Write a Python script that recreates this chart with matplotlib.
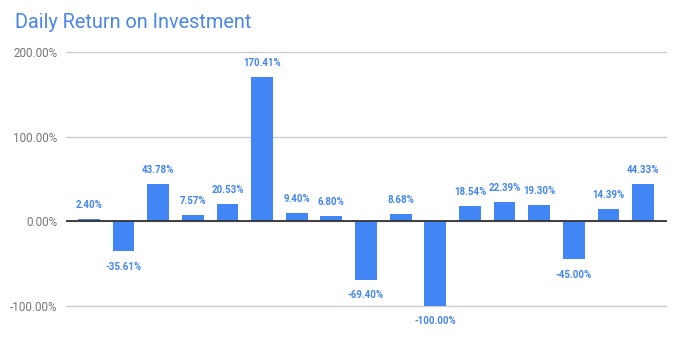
import matplotlib.pyplot as plt
from matplotlib.ticker import FuncFormatter

# daily returns in percent
days = list(range(17))
returns = [2.40, -35.61, 43.78, 7.57, 20.53, 170.41, 9.40, 6.80, -69.40,
           8.68, -100.00, 18.54, 22.39, 19.30, -45.00, 14.39, 44.33]
y_ticks = [-100, 0, 100, 200]

plt.rcParams['font.family'] = ['Roboto', 'DejaVu Sans']

fig = plt.figure(figsize=(6.81, 3.45), dpi=100)
# a bit of room below -100 so the gridline there is not clipped
ax = fig.add_axes([66 / 681, 1 - 308 / 345, (667 - 66) / 681, (308 - 50) / 345])

blue = '#4285f4'
ax.bar(days, returns, width=0.63, color=blue, zorder=3)

# value labels
for x, v in zip(days, returns):
    off = 10 if v >= 0 else -11
    ax.annotate(f'{v:.2f}%', (x, v), xytext=(0, off), textcoords='offset points',
                ha='center', va='center', fontsize=7, fontweight='bold',
                color=blue, annotation_clip=False)

ax.set_xlim(-0.66, 16.69)
ax.set_ylim(-102.4, 202.4)
ax.set_yticks(y_ticks)
ax.yaxis.set_major_formatter(FuncFormatter(lambda v, p: f'{v:.2f}%'))
ax.tick_params(axis='y', length=0, pad=6, labelsize=8.4, labelcolor='#757575')
ax.set_xticks([])
ax.grid(axis='y', color='#cccccc', linewidth=1, zorder=0)
ax.axhline(0, color='#333333', linewidth=1.3, zorder=4)
for s in ax.spines.values():
    s.set_visible(False)

fig.text(15 / 681, 1 - 22 / 345, 'Daily Return on Investment', fontsize=14.3,
         color='#4a86e8', va='center', ha='left')

fig.savefig('out.png', dpi=100)
